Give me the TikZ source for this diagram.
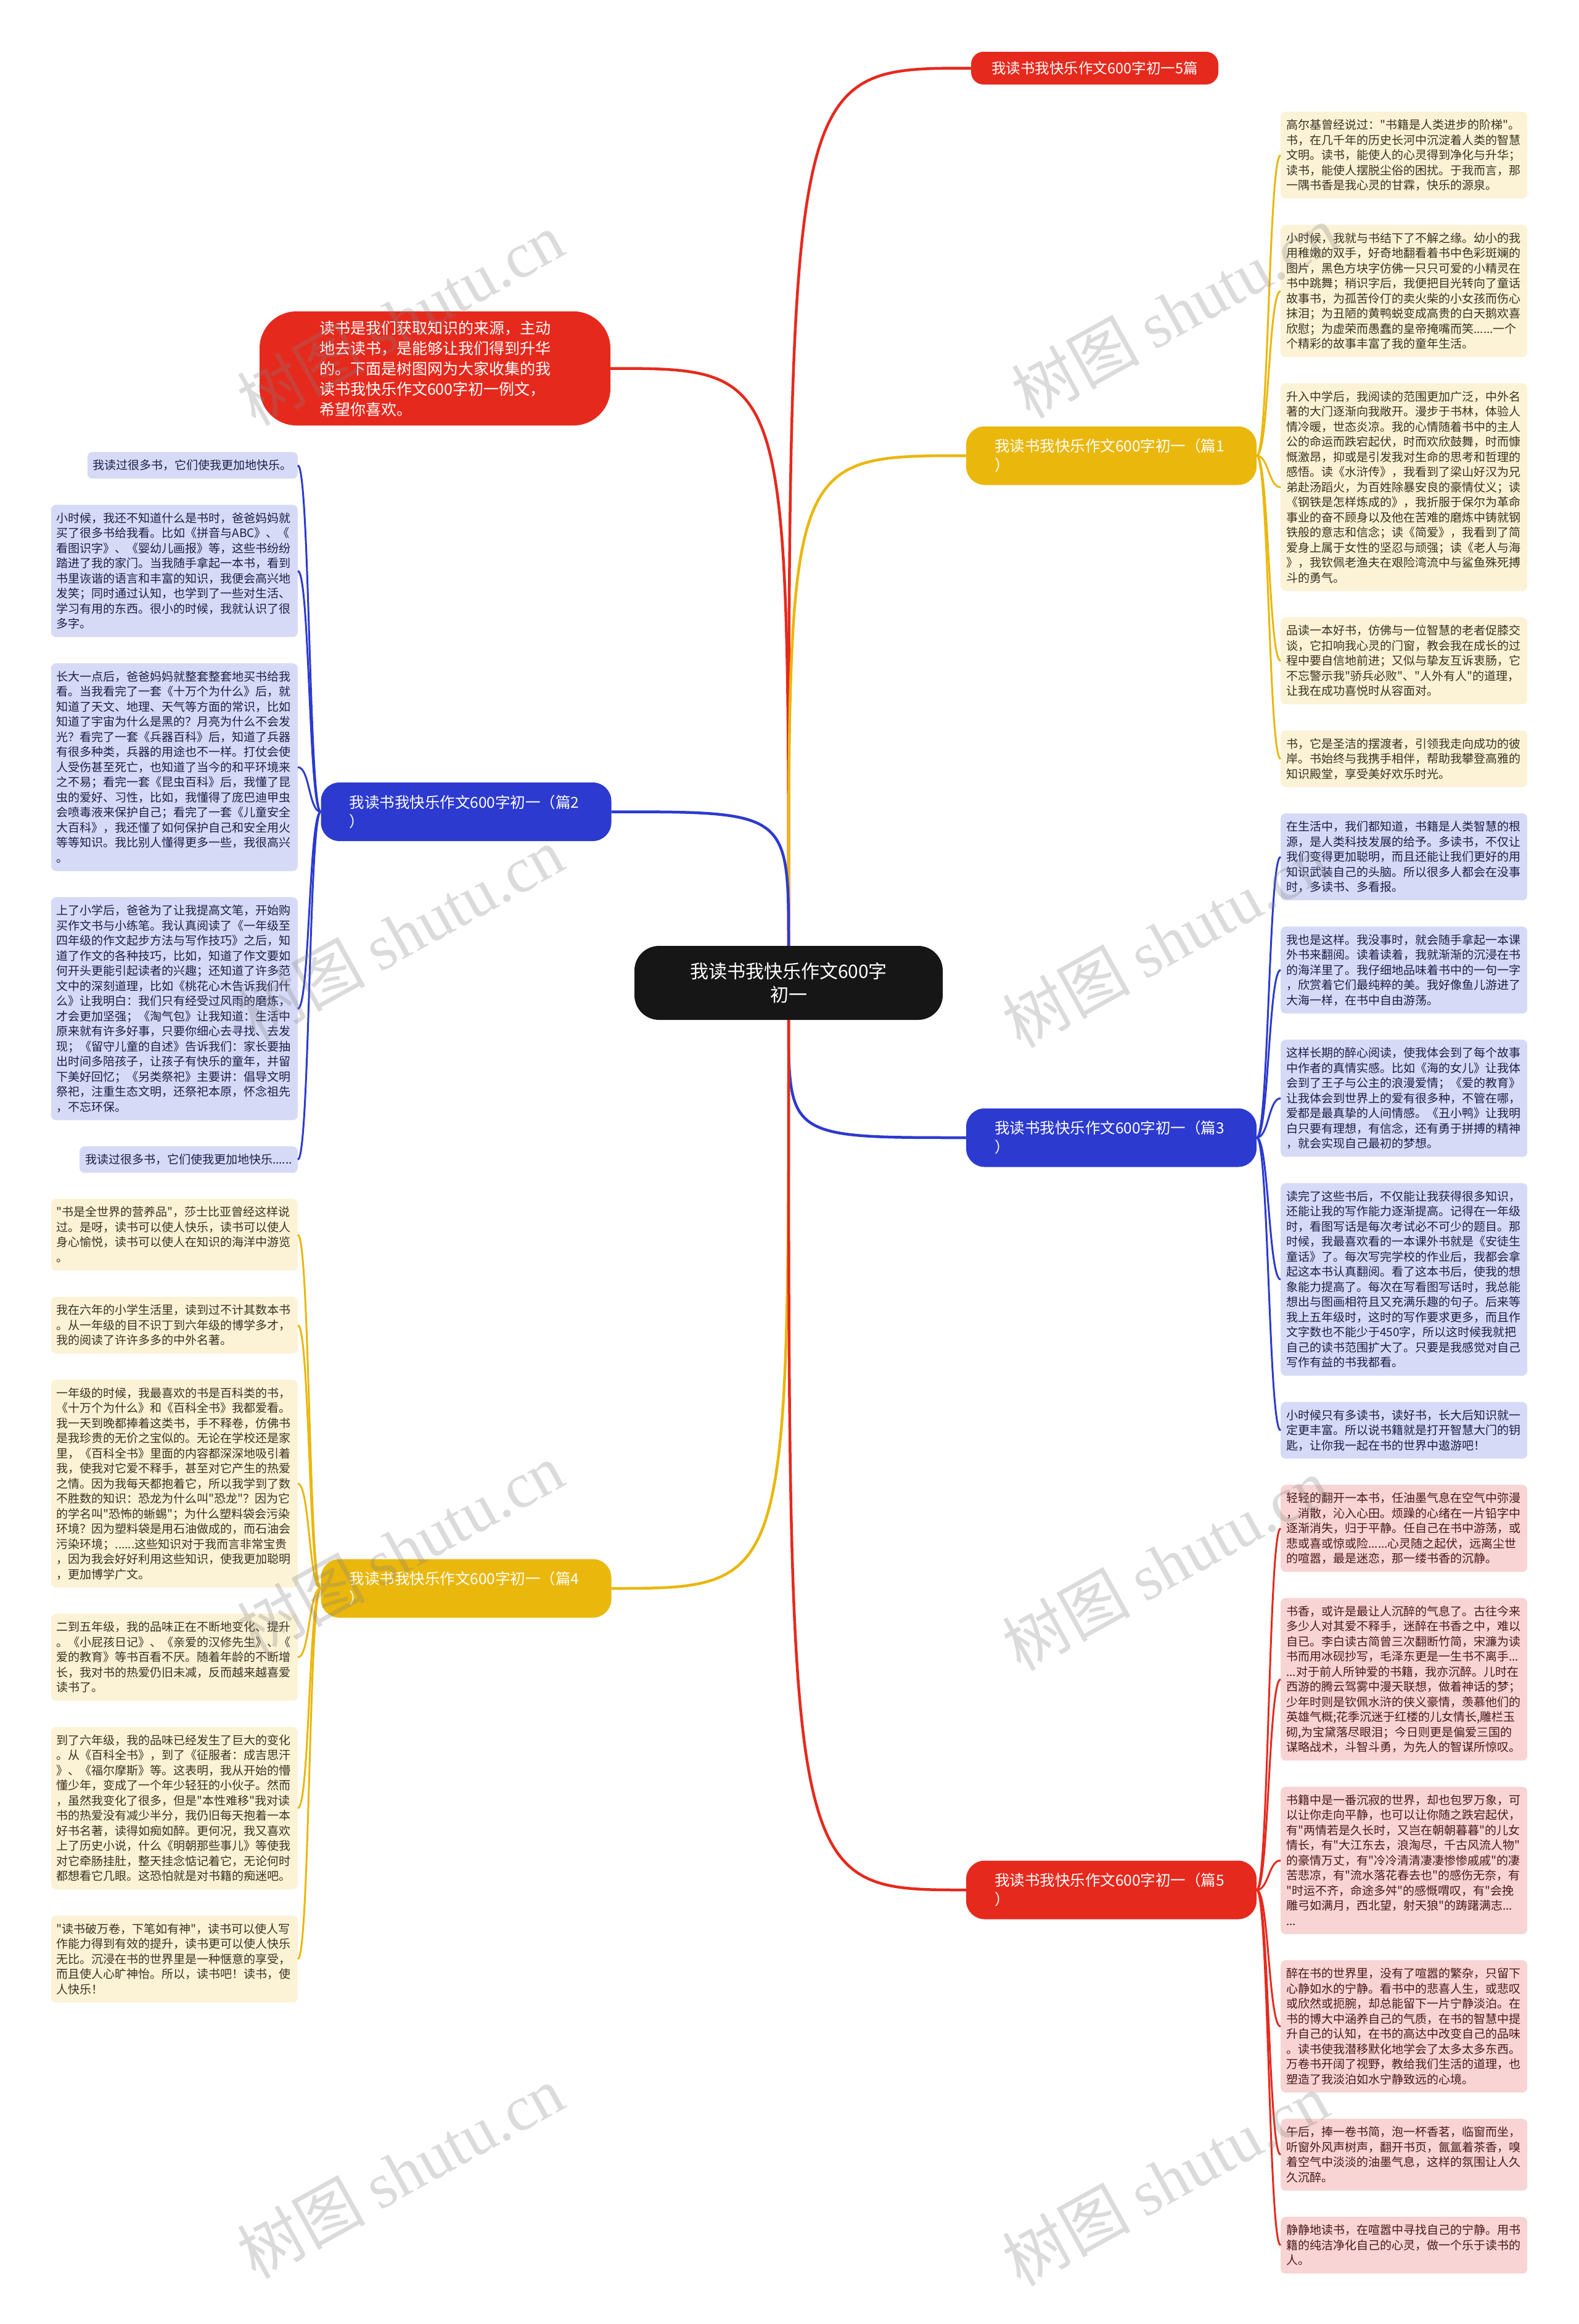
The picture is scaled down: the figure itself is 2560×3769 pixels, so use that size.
\documentclass[tikz,border=0pt]{standalone}
\usepackage{fontspec}
\setmainfont{Noto Sans CJK SC}[Ligatures=TeXOff]
\newfontfamily\wmserif{Liberation Serif}
\definecolor{cred}{HTML}{E6291D}
\definecolor{cyel}{HTML}{EAB70D}
\definecolor{cblu}{HTML}{2C3AD0}
\definecolor{cblk}{HTML}{161616}
\definecolor{yfill}{HTML}{FCF2D6}
\definecolor{bfill}{HTML}{D7DAF7}
\definecolor{rfill}{HTML}{F9D4D4}
\definecolor{ytext}{HTML}{3A3322}
\definecolor{btext}{HTML}{1E1E48}
\definecolor{rtext}{HTML}{4A1A1A}
\newcommand\lns[1]{\rule{0pt}{19.45pt}#1\rule[-5.05pt]{0pt}{0pt}}
\tikzset{
  tb/.style={rounded corners=8pt, inner xsep=9pt, inner ysep=9.25pt, text width=382pt, align=left, font=\fontsize{19pt}{24.5pt}\selectfont},
  sb/.style={rounded corners=8pt, inner xsep=9pt, inner ysep=9.25pt, align=left, font=\fontsize{19pt}{24.5pt}\selectfont},
  yb/.style={tb, fill=yfill, text=ytext},
  bb/.style={tb, fill=bfill, text=btext},
  rb/.style={tb, fill=rfill, text=rtext},
  brn/.style={rounded corners=30pt, text=white, inner xsep=46pt, inner ysep=0pt, text width=379pt, minimum height=95pt, align=left, font=\fontsize{24.5pt}{31pt}\selectfont},
  main/.style={line width=4.5pt},
  sub/.style={line width=3pt},
  wm/.style={text=gray, opacity=0.28, font=\fontsize{104pt}{110pt}\selectfont, rotate=29}
}
\begin{document}
\begin{tikzpicture}[x=1pt,y=-1pt]
\useasboundingbox (0,0) rectangle (2560,3769);
\fill[white] (0,0) rectangle (2560,3769);

% centre, intro, branches
\node[fill=cblk, text=white, rounded corners=40pt, minimum width=500pt, minimum height=120pt, align=center, font=\fontsize{30pt}{38pt}\selectfont] (c) at (1279,1594) {我读书我快乐作文600字\\初一};
\node[fill=cred, text=white, rounded corners=60pt, minimum width=569pt, minimum height=185pt, text width=375pt, align=left, font=\fontsize{25pt}{33pt}\selectfont] (intro) at (705.5,597.5) {读书是我们获取知识的来源，主动\\地去读书，是能够让我们得到升华\\的。下面是树图网为大家收集的我\\读书我快乐作文600字初一例文，\\希望你喜欢。};
\node[fill=cred, text=white, rounded corners=20pt, minimum width=401pt, minimum height=53pt, font=\fontsize{23.5pt}{28pt}\selectfont] (top) at (1775.5,110.5) {我读书我快乐作文600字初一5篇};
\node[brn, fill=cyel] (b1) at (1802.5,739) {我读书我快乐作文600字初一（篇1\\）};
\node[brn, fill=cblu] (b2) at (756,1316.5) {我读书我快乐作文600字初一（篇2\\）};
\node[brn, fill=cblu] (b3) at (1802.5,1845) {我读书我快乐作文600字初一（篇3\\）};
\node[brn, fill=cyel] (b4) at (756,2576) {我读书我快乐作文600字初一（篇4\\）};
\node[brn, fill=cred] (b5) at (1802.5,3065) {我读书我快乐作文600字初一（篇5\\）};

% right column, branch 1
\node[yb, anchor=north west] (r1) at (2077,181) {\lns{高尔基曾经说过："书籍是人类进步的阶梯"。\\书，在几千年的历史长河中沉淀着人类的智慧\\文明。读书，能使人的心灵得到净化与升华；\\读书，能使人摆脱尘俗的困扰。于我而言，那\\一隅书香是我心灵的甘霖，快乐的源泉。}};
\node[yb, anchor=north west] (r2) at (2077,364.5) {\lns{小时候，我就与书结下了不解之缘。幼小的我\\用稚嫩的双手，好奇地翻看着书中色彩斑斓的\\图片，黑色方块字仿佛一只只可爱的小精灵在\\书中跳舞；稍识字后，我便把目光转向了童话\\故事书，为孤苦伶仃的卖火柴的小女孩而伤心\\抹泪；为丑陋的黄鸭蜕变成高贵的白天鹅欢喜\\欣慰；为虚荣而愚蠢的皇帝掩嘴而笑......一个\\个精彩的故事丰富了我的童年生活。}};
\node[yb, anchor=north west] (r3) at (2077,621.5) {\lns{升入中学后，我阅读的范围更加广泛，中外名\\著的大门逐渐向我敞开。漫步于书林，体验人\\情冷暖，世态炎凉。我的心情随着书中的主人\\公的命运而跌宕起伏，时而欢欣鼓舞，时而慷\\慨激昂，抑或是引发我对生命的思考和哲理的\\感悟。读《水浒传》，我看到了梁山好汉为兄\\弟赴汤蹈火，为百姓除暴安良的豪情仗义；读\\《钢铁是怎样炼成的》，我折服于保尔为革命\\事业的奋不顾身以及他在苦难的磨炼中铸就钢\\铁般的意志和信念；读《简爱》，我看到了简\\爱身上属于女性的坚忍与顽强；读《老人与海\\》，我钦佩老渔夫在艰险湾流中与鲨鱼殊死搏\\斗的勇气。}};
\node[yb, anchor=north west] (r4) at (2077,1001) {\lns{品读一本好书，仿佛与一位智慧的老者促膝交\\谈，它扣响我心灵的门窗，教会我在成长的过\\程中要自信地前进；又似与挚友互诉衷肠，它\\不忘警示我"骄兵必败"、"人外有人"的道理，\\让我在成功喜悦时从容面对。}};
\node[yb, anchor=north west] (r5) at (2077,1184.5) {\lns{书，它是圣洁的摆渡者，引领我走向成功的彼\\岸。书始终与我携手相伴，帮助我攀登高雅的\\知识殿堂，享受美好欢乐时光。}};

% right column, branch 3
\node[bb, anchor=north west] (r6) at (2077,1319) {\lns{在生活中，我们都知道，书籍是人类智慧的根\\源，是人类科技发展的给予。多读书，不仅让\\我们变得更加聪明，而且还能让我们更好的用\\知识武装自己的头脑。所以很多人都会在没事\\时，多读书、多看报。}};
\node[bb, anchor=north west] (r7) at (2077,1502.5) {\lns{我也是这样。我没事时，就会随手拿起一本课\\外书来翻阅。读着读着，我就渐渐的沉浸在书\\的海洋里了。我仔细地品味着书中的一句一字\\，欣赏着它们最纯粹的美。我好像鱼儿游进了\\大海一样，在书中自由游荡。}};
\node[bb, anchor=north west] (r8) at (2077,1686) {\lns{这样长期的醉心阅读，使我体会到了每个故事\\中作者的真情实感。比如《海的女儿》让我体\\会到了王子与公主的浪漫爱情；《爱的教育》\\让我体会到世界上的爱有很多种，不管在哪，\\爱都是最真挚的人间情感。《丑小鸭》让我明\\白只要有理想，有信念，还有勇于拼搏的精神\\，就会实现自己最初的梦想。}};
\node[bb, anchor=north west] (r9) at (2077,1918.5) {\lns{读完了这些书后，不仅能让我获得很多知识，\\还能让我的写作能力逐渐提高。记得在一年级\\时，看图写话是每次考试必不可少的题目。那\\时候，我最喜欢看的一本课外书就是《安徒生\\童话》了。每次写完学校的作业后，我都会拿\\起这本书认真翻阅。看了这本书后，使我的想\\象能力提高了。每次在写看图写话时，我总能\\想出与图画相符且又充满乐趣的句子。后来等\\我上五年级时，这时的写作要求更多，而且作\\文字数也不能少于450字，所以这时候我就把\\自己的读书范围扩大了。只要是我感觉对自己\\写作有益的书我都看。}};
\node[bb, anchor=north west] (r10) at (2077,2273.5) {\lns{小时候只有多读书，读好书，长大后知识就一\\定更丰富。所以说书籍就是打开智慧大门的钥\\匙，让你我一起在书的世界中遨游吧！}};

% right column, branch 5
\node[rb, anchor=north west] (r11) at (2077,2408) {\lns{轻轻的翻开一本书，任油墨气息在空气中弥漫\\，消散，沁入心田。烦躁的心绪在一片铅字中\\逐渐消失，归于平静。任自己在书中游荡，或\\悲或喜或惊或险......心灵随之起伏，远离尘世\\的喧嚣，最是迷恋，那一缕书香的沉静。}};
\node[rb, anchor=north west] (r12) at (2077,2591.5) {\lns{书香，或许是最让人沉醉的气息了。古往今来\\多少人对其爱不释手，迷醉在书香之中，难以\\自已。李白读古简曾三次翻断竹简，宋濂为读\\书而用冰砚抄写，毛泽东更是一生书不离手...\\...对于前人所钟爱的书籍，我亦沉醉。儿时在\\西游的腾云驾雾中漫天联想，做着神话的梦；\\少年时则是钦佩水浒的侠义豪情，羡慕他们的\\英雄气概;花季沉迷于红楼的儿女情长,雕栏玉\\砌,为宝黛落尽眼泪；今日则更是偏爱三国的\\谋略战术，斗智斗勇，为先人的智谋所惊叹。}};
\node[rb, anchor=north west] (r13) at (2077,2897.5) {\lns{书籍中是一番沉寂的世界，却也包罗万象，可\\以让你走向平静，也可以让你随之跌宕起伏，\\有"两情若是久长时，又岂在朝朝暮暮"的儿女\\情长，有"大江东去，浪淘尽，千古风流人物"\\的豪情万丈，有"冷冷清清凄凄惨惨戚戚"的凄\\苦悲凉，有"流水落花春去也"的感伤无奈，有\\"时运不齐，命途多舛"的感慨喟叹，有"会挽\\雕弓如满月，西北望，射天狼"的踌躇满志...\\...}};
\node[rb, anchor=north west] (r14) at (2077,3179) {\lns{醉在书的世界里，没有了喧嚣的繁杂，只留下\\心静如水的宁静。看书中的悲喜人生，或悲叹\\或欣然或扼腕，却总能留下一片宁静淡泊。在\\书的博大中涵养自己的气质，在书的智慧中提\\升自己的认知，在书的高达中改变自己的品味\\。读书使我潜移默化地学会了太多太多东西。\\万卷书开阔了视野，教给我们生活的道理，也\\塑造了我淡泊如水宁静致远的心境。}};
\node[rb, anchor=north west] (r15) at (2077,3436) {\lns{午后，捧一卷书简，泡一杯香茗，临窗而坐，\\听窗外风声树声，翻开书页，氤氲着茶香，嗅\\着空气中淡淡的油墨气息，这样的氛围让人久\\久沉醉。}};
\node[rb, anchor=north west] (r16) at (2077,3595) {\lns{静静地读书，在喧嚣中寻找自己的宁静。用书\\籍的纯洁净化自己的心灵，做一个乐于读书的\\人。}};

% left column, branch 2
\node[sb, fill=bfill, text=btext, anchor=north east] (l1) at (483,733) {\lns{我读过很多书，它们使我更加地快乐。}};
\node[bb, anchor=north east] (l2) at (483,818.5) {\lns{小时候，我还不知道什么是书时，爸爸妈妈就\\买了很多书给我看。比如《拼音与ABC》、《\\看图识字》、《婴幼儿画报》等，这些书纷纷\\踏进了我的家门。当我随手拿起一本书，看到\\书里诙谐的语言和丰富的知识，我便会高兴地\\发笑；同时通过认知，也学到了一些对生活、\\学习有用的东西。很小的时候，我就认识了很\\多字。}};
\node[bb, anchor=north east] (l3) at (483,1075.5) {\lns{长大一点后，爸爸妈妈就整套整套地买书给我\\看。当我看完了一套《十万个为什么》后，就\\知道了天文、地理、天气等方面的常识，比如\\知道了宇宙为什么是黑的？月亮为什么不会发\\光？看完了一套《兵器百科》后，知道了兵器\\有很多种类，兵器的用途也不一样。打仗会使\\人受伤甚至死亡，也知道了当今的和平环境来\\之不易；看完一套《昆虫百科》后，我懂了昆\\虫的爱好、习性，比如，我懂得了庞巴迪甲虫\\会喷毒液来保护自己；看完了一套《儿童安全\\大百科》，我还懂了如何保护自己和安全用火\\等等知识。我比别人懂得更多一些，我很高兴\\。}};
\node[bb, anchor=north east] (l4) at (483,1455) {\lns{上了小学后，爸爸为了让我提高文笔，开始购\\买作文书与小练笔。我认真阅读了《一年级至\\四年级的作文起步方法与写作技巧》之后，知\\道了作文的各种技巧，比如，知道了作文要如\\何开头更能引起读者的兴趣；还知道了许多范\\文中的深刻道理，比如《桃花心木告诉我们什\\么》让我明白：我们只有经受过风雨的磨炼，\\才会更加坚强；《淘气包》让我知道：生活中\\原来就有许多好事，只要你细心去寻找、去发\\现；《留守儿童的自述》告诉我们：家长要抽\\出时间多陪孩子，让孩子有快乐的童年，并留\\下美好回忆；《另类祭祀》主要讲：倡导文明\\祭祀，注重生态文明，还祭祀本原，怀念祖先\\，不忘环保。}};
\node[sb, fill=bfill, text=btext, anchor=north east] (l5) at (483,1859) {\lns{我读过很多书，它们使我更加地快乐......}};

% left column, branch 4
\node[yb, anchor=north east] (l6) at (483,1944) {\lns{"书是全世界的营养品"，莎士比亚曾经这样说\\过。是呀，读书可以使人快乐，读书可以使人\\身心愉悦，读书可以使人在知识的海洋中游览\\。}};
\node[yb, anchor=north east] (l7) at (483,2103) {\lns{我在六年的小学生活里，读到过不计其数本书\\。从一年级的目不识丁到六年级的博学多才，\\我的阅读了许许多多的中外名著。}};
\node[yb, anchor=north east] (l8) at (483,2237.5) {\lns{一年级的时候，我最喜欢的书是百科类的书，\\《十万个为什么》和《百科全书》我都爱看。\\我一天到晚都捧着这类书，手不释卷，仿佛书\\是我珍贵的无价之宝似的。无论在学校还是家\\里，《百科全书》里面的内容都深深地吸引着\\我，使我对它爱不释手，甚至对它产生的热爱\\之情。因为我每天都抱着它，所以我学到了数\\不胜数的知识：恐龙为什么叫"恐龙"？因为它\\的学名叫"恐怖的蜥蜴"；为什么塑料袋会污染\\环境？因为塑料袋是用石油做成的，而石油会\\污染环境；......这些知识对于我而言非常宝贵\\，因为我会好好利用这些知识，使我更加聪明\\，更加博学广文。}};
\node[yb, anchor=north east] (l9) at (483,2617) {\lns{二到五年级，我的品味正在不断地变化、提升\\。《小屁孩日记》、《亲爱的汉修先生》、《\\爱的教育》等书百看不厌。随着年龄的不断增\\长，我对书的热爱仍旧未减，反而越来越喜爱\\读书了。}};
\node[yb, anchor=north east] (l10) at (483,2800.5) {\lns{到了六年级，我的品味已经发生了巨大的变化\\。从《百科全书》，到了《征服者：成吉思汗\\》、《福尔摩斯》等。这表明，我从开始的懵\\懂少年，变成了一个年少轻狂的小伙子。然而\\，虽然我变化了很多，但是"本性难移"我对读\\书的热爱没有减少半分，我仍旧每天抱着一本\\好书名著，读得如痴如醉。更何况，我又喜欢\\上了历史小说，什么《明朝那些事儿》等使我\\对它牵肠挂肚，整天挂念惦记着它，无论何时\\都想看它几眼。这恐怕就是对书籍的痴迷吧。}};
\node[yb, anchor=north east] (l11) at (483,3106.5) {\lns{"读书破万卷，下笔如有神"，读书可以使人写\\作能力得到有效的提升，读书更可以使人快乐\\无比。沉浸在书的世界里是一种惬意的享受，\\而且使人心旷神怡。所以，读书吧！读书，使\\人快乐！}};

% connectors from centre
\draw[main, cred] (c.north) .. controls (c.north |- top.west) .. (top.west);
\draw[main, cred] (c.north) .. controls (c.north |- intro.east) .. (intro.east);
\draw[main, cyel] (c.north) .. controls (c.north |- b1.west) .. (b1.west);
\draw[main, cblu] (c.north) .. controls (c.north |- b2.east) .. (b2.east);
\draw[main, cblu] (c.south) .. controls (c.south |- b3.west) .. (b3.west);
\draw[main, cyel] (c.south) .. controls (c.south |- b4.east) .. (b4.east);
\draw[main, cred] (c.south) .. controls (c.south |- b5.west) .. (b5.west);

% connectors to leaves
\foreach \k in {r1,r2,r3,r4,r5}{\draw[sub, cyel] (b1.east) .. controls +(19.5,0) and +(-19.5,0) .. (\k.west);}
\foreach \k in {r6,r7,r8,r9,r10}{\draw[sub, cblu] (b3.east) .. controls +(19.5,0) and +(-19.5,0) .. (\k.west);}
\foreach \k in {r11,r12,r13,r14,r15,r16}{\draw[sub, cred] (b5.east) .. controls +(19.5,0) and +(-19.5,0) .. (\k.west);}
\foreach \k in {l1,l2,l3,l4,l5}{\draw[sub, cblu] (b2.west) .. controls +(-19.5,0) and +(19.5,0) .. (\k.east);}
\foreach \k in {l6,l7,l8,l9,l10,l11}{\draw[sub, cyel] (b4.west) .. controls +(-19.5,0) and +(19.5,0) .. (\k.east);}

% watermarks
\foreach \wx/\wy [count=\i] in {649/517, 1905/505, 649/1514, 1890/1526, 649/2512, 1890/2536, 649/3522, 1890/3534}{
  \node[wm] (wm\i) at (\wx,\wy) {树图 {\wmserif shutu.cn}};
}
\end{tikzpicture}
\end{document}
